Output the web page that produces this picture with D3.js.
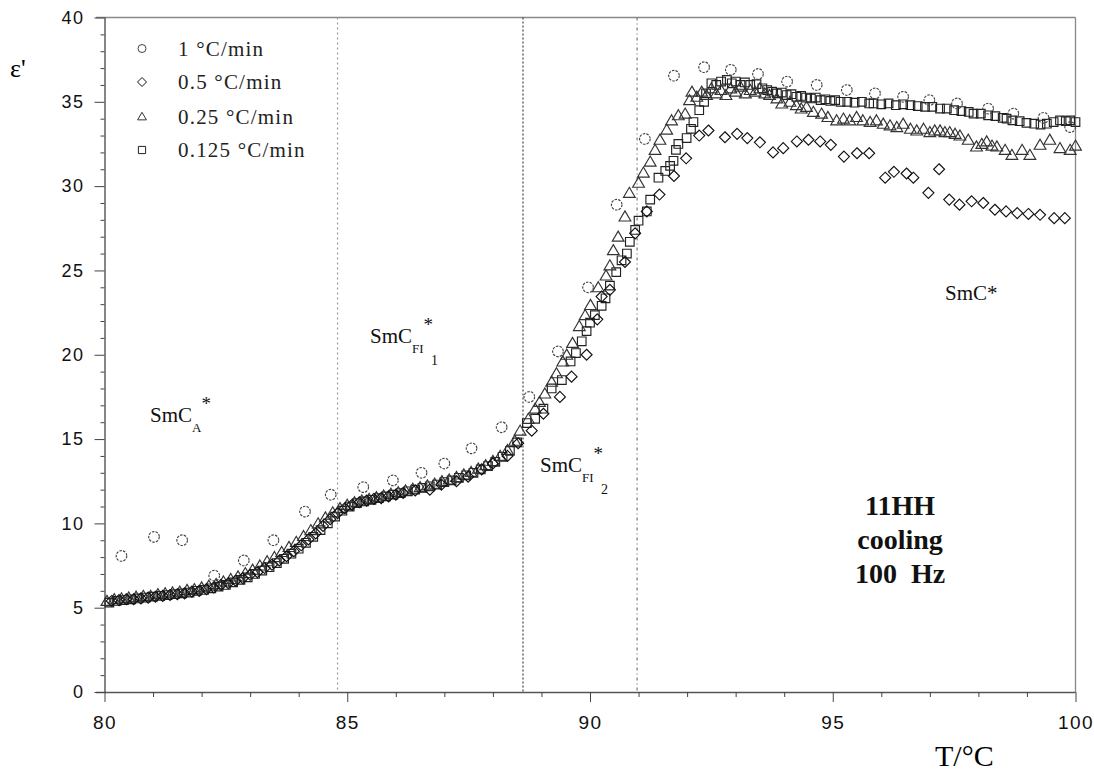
<!DOCTYPE html>
<html><head><meta charset="utf-8">
<script src="https://cdn.jsdelivr.net/npm/d3@7"></script>
<style>body{margin:0;background:#fff}svg{display:block}</style>
</head><body>
<svg id="c" width="1094" height="776"></svg>
<script>
// ---- data (T in °C, epsilon') ----
const rate1 = [[80.35,8.07],[81.02,9.2],[81.6,9.0],[82.26,6.9],[82.87,7.8],[83.48,9.0],[84.13,10.7],[84.66,11.7],[85.33,12.15],[85.94,12.55],[86.53,13.0],[87.0,13.55],[87.56,14.45],[88.18,15.7],[88.75,17.5],[89.34,20.2],[89.96,24.0],[90.55,28.9],[91.13,32.8],[91.73,36.55],[92.35,37.05],[92.9,36.9],[93.46,36.65],[94.06,36.2],[94.67,36.0],[95.29,35.7],[95.87,35.5],[96.45,35.3],[96.99,35.1],[97.56,34.9],[98.2,34.6],[98.72,34.3],[99.34,34.05],[99.89,33.5]];
const rate05 = [[80.15,5.4],[80.3,5.45],[80.45,5.5],[80.6,5.5],[80.75,5.55],[80.9,5.6],[81.05,5.65],[81.2,5.7],[81.35,5.75],[81.5,5.8],[81.65,5.85],[81.8,5.95],[81.95,6.0],[82.1,6.1],[82.25,6.2],[82.4,6.35],[82.55,6.45],[82.7,6.6],[82.85,6.75],[83.0,6.95],[83.15,7.1],[83.3,7.35],[83.45,7.55],[83.6,7.8],[83.75,8.05],[83.9,8.35],[84.05,8.7],[84.2,9.05],[84.35,9.4],[84.5,9.85],[84.65,10.25],[84.8,10.6],[84.95,10.9],[85.1,11.1],[85.25,11.25],[85.4,11.35],[85.55,11.45],[85.7,11.5],[85.85,11.6],[86.0,11.7],[86.15,11.8],[86.4,11.95],[86.7,12.0],[86.94,12.3],[87.25,12.5],[87.49,12.77],[87.77,13.2],[88.0,13.55],[88.3,14.0],[88.52,14.75],[88.8,15.5],[89.04,16.5],[89.38,17.5],[89.62,18.7],[89.93,20.0],[90.15,22.1],[90.24,23.45],[90.41,23.85],[90.72,25.5],[90.93,27.2],[91.17,28.5],[91.43,29.5],[91.73,30.6],[91.98,31.65],[92.25,33.0],[92.44,33.3],[92.78,32.9],[93.03,33.1],[93.24,32.85],[93.5,32.6],[93.77,32.0],[93.98,32.25],[94.26,32.65],[94.5,32.75],[94.74,32.65],[94.96,32.45],[95.23,31.75],[95.5,31.95],[95.75,31.95],[96.08,30.5],[96.26,30.85],[96.52,30.75],[96.66,30.5],[96.97,29.6],[97.19,31.0],[97.4,29.2],[97.61,28.9],[97.86,29.1],[98.1,29.0],[98.34,28.6],[98.57,28.5],[98.8,28.4],[99.03,28.35],[99.27,28.3],[99.56,28.1],[99.78,28.1]];
const rate025 = [[80.05,5.4],[80.2,5.5],[80.35,5.55],[80.5,5.6],[80.65,5.65],[80.8,5.7],[80.95,5.7],[81.1,5.8],[81.25,5.85],[81.4,5.9],[81.55,5.95],[81.7,6.05],[81.85,6.1],[82.0,6.2],[82.15,6.3],[82.3,6.4],[82.45,6.55],[82.6,6.7],[82.75,6.85],[82.9,7.05],[83.05,7.25],[83.2,7.5],[83.35,7.75],[83.5,8.0],[83.65,8.3],[83.8,8.6],[83.95,8.9],[84.1,9.25],[84.25,9.6],[84.4,10.0],[84.55,10.35],[84.7,10.65],[84.85,10.9],[85.0,11.1],[85.15,11.25],[85.3,11.35],[85.45,11.45],[85.6,11.55],[85.75,11.65],[85.9,11.75],[86.05,11.85],[86.2,11.95],[86.35,12.05],[86.5,12.15],[86.65,12.25],[86.8,12.35],[86.95,12.5],[87.1,12.6],[87.25,12.75],[87.4,12.9],[87.55,13.05],[87.7,13.25],[87.85,13.45],[88.0,13.7],[88.15,14.0],[88.3,14.35],[88.45,14.9],[88.56,15.5],[88.73,16.2],[88.87,16.8],[88.96,17.2],[89.07,17.7],[89.21,18.4],[89.31,18.9],[89.44,19.6],[89.52,20.0],[89.64,20.7],[89.78,21.7],[89.9,22.35],[90.01,22.95],[90.17,24.0],[90.33,24.7],[90.41,25.3],[90.48,26.2],[90.58,27.0],[90.72,28.2],[90.81,29.6],[91.0,30.2],[91.1,30.8],[91.24,31.45],[91.34,32.15],[91.44,32.75],[91.58,33.35],[91.68,33.9],[91.82,34.2],[91.96,34.3],[92.05,35.1],[92.1,35.6],[92.2,35.3],[92.3,35.6],[92.4,35.4],[92.5,35.8],[92.6,35.5],[92.7,35.7],[92.8,35.4],[92.9,35.8],[93.0,35.6],[93.1,35.9],[93.2,35.5],[93.3,35.7],[93.4,35.6],[93.5,35.8],[93.6,35.5],[93.7,35.4],[93.85,35.2],[93.95,34.9],[94.12,35.0],[94.25,34.8],[94.35,34.6],[94.46,34.7],[94.6,34.4],[94.77,34.3],[94.9,34.1],[95.08,33.9],[95.22,34.0],[95.35,33.9],[95.49,34.1],[95.62,33.9],[95.77,33.8],[95.9,33.9],[96.04,33.7],[96.18,33.6],[96.32,33.5],[96.45,33.7],[96.6,33.4],[96.73,33.3],[96.87,33.4],[97.0,33.2],[97.1,33.3],[97.21,33.3],[97.31,33.2],[97.41,33.2],[97.52,33.1],[97.62,33.0],[97.79,32.75],[97.96,32.35],[98.07,32.5],[98.17,32.65],[98.28,32.4],[98.38,32.35],[98.55,32.15],[98.69,31.85],[98.9,32.15],[99.06,31.85],[99.27,32.45],[99.47,32.75],[99.68,32.25],[99.89,32.15],[100.0,32.4]];
const rate0125 = [[80.1,5.3],[80.25,5.4],[80.4,5.45],[80.55,5.5],[80.7,5.55],[80.85,5.6],[81.0,5.65],[81.15,5.7],[81.3,5.75],[81.45,5.8],[81.6,5.85],[81.75,5.9],[81.9,6.0],[82.05,6.05],[82.2,6.15],[82.35,6.25],[82.5,6.35],[82.65,6.5],[82.8,6.65],[82.95,6.8],[83.1,7.0],[83.25,7.2],[83.4,7.4],[83.55,7.65],[83.7,7.9],[83.85,8.2],[84.0,8.5],[84.15,8.85],[84.3,9.2],[84.45,9.6],[84.6,10.0],[84.75,10.4],[84.9,10.75],[85.05,11.0],[85.2,11.2],[85.35,11.3],[85.5,11.4],[85.65,11.5],[85.8,11.6],[85.95,11.7],[86.1,11.8],[86.25,11.9],[86.4,12.0],[86.55,12.1],[86.7,12.2],[86.85,12.3],[87.0,12.45],[87.15,12.55],[87.3,12.7],[87.45,12.85],[87.6,13.0],[87.75,13.2],[87.9,13.4],[88.05,13.65],[88.2,13.95],[88.35,14.3],[88.5,14.8],[88.7,15.95],[88.87,16.2],[89.04,16.8],[89.21,18.0],[89.42,18.5],[89.6,19.6],[89.71,20.1],[89.83,20.8],[89.93,21.4],[90.0,21.9],[90.1,22.35],[90.24,22.9],[90.32,23.35],[90.41,24.1],[90.54,24.9],[90.65,25.6],[90.76,26.0],[90.82,26.7],[90.93,27.4],[91.0,27.95],[91.17,28.5],[91.24,29.2],[91.41,30.5],[91.55,30.9],[91.65,31.2],[91.72,31.5],[91.77,32.15],[91.82,32.5],[91.99,32.85],[92.08,33.4],[92.13,33.8],[92.25,34.5],[92.35,35.0],[92.39,35.5],[92.5,36.1],[92.6,36.0],[92.7,36.2],[92.82,36.3],[92.92,36.1],[93.0,36.2],[93.1,36.0],[93.19,36.15],[93.3,36.0],[93.43,36.05],[93.55,35.8],[93.65,35.7],[93.75,35.6],[93.85,35.5],[93.95,35.55],[94.05,35.4],[94.15,35.45],[94.25,35.3],[94.35,35.35],[94.45,35.25],[94.55,35.2],[94.65,35.25],[94.75,35.1],[94.85,35.15],[94.95,35.05],[95.05,35.1],[95.16,35.0],[95.3,35.0],[95.45,34.95],[95.6,35.0],[95.75,34.9],[95.84,34.9],[96.0,34.85],[96.15,34.9],[96.3,34.8],[96.45,34.85],[96.6,34.8],[96.75,34.75],[96.9,34.7],[97.05,34.7],[97.21,34.6],[97.35,34.6],[97.5,34.5],[97.65,34.45],[97.8,34.4],[97.9,34.3],[98.05,34.3],[98.2,34.2],[98.35,34.15],[98.5,34.05],[98.58,34.0],[98.7,33.9],[98.85,33.85],[98.99,33.75],[99.15,33.7],[99.28,33.65],[99.41,33.7],[99.55,33.8],[99.68,33.9],[99.8,33.85],[99.89,33.9],[100.0,33.8]];
const legendLabels = ["1 °C/min","0.5 °C/min","0.25 °C/min","0.125 °C/min"];
const phaseLines = [84.8, 88.62, 90.97];
const xTicks = [80,85,90,95,100];
const yTicks = [0,5,10,15,20,25,30,35,40];

// ---- layout ----
const svg = d3.select("#c");
const x = d3.scaleLinear().domain([80,100]).range([104.5,1075.5]);
const y = d3.scaleLinear().domain([0,40]).range([692,17.5]);
const serif = "'Liberation Serif','Times New Roman',serif";
const sans = "'Liberation Sans',Arial,sans-serif";

// frame (top, right)
svg.append("line").attr("x1",96).attr("x2",x(100)).attr("y1",y(40)).attr("y2",y(40)).attr("stroke","#888").attr("stroke-width",1.3);
svg.append("line").attr("x1",x(100)).attr("x2",x(100)).attr("y1",y(40)).attr("y2",y(0)).attr("stroke","#888").attr("stroke-width",1.3);

// phase boundary lines
const dashes = ["2,3","2,2","3,3,1,3"];
const lcol = ["#999","#444","#777"];
phaseLines.forEach((t,i)=>{
  svg.append("line").attr("x1",x(t)).attr("x2",x(t)).attr("y1",y(40)).attr("y2",y(0))
    .attr("stroke",lcol[i]).attr("stroke-width",1.2).attr("stroke-dasharray",dashes[i]);
});

// axes
const xAxis = d3.axisBottom(x).tickValues(d3.range(80,101,1)).tickSize(5)
  .tickFormat(d=> xTicks.includes(d)? d : "");
const gx = svg.append("g").attr("transform",`translate(0,${y(0)})`).call(xAxis);
gx.select(".domain").attr("stroke","#555").attr("stroke-width",1.3).attr("d",`M96,0.5H${x(100)}`);
gx.selectAll(".tick line").attr("stroke","#444").attr("y2",d=> xTicks.includes(d)?10:5);
gx.selectAll(".tick text").attr("font-family",sans).attr("font-size",19).attr("letter-spacing","1.5px")
  .attr("fill","#111").attr("y",24);

const yAxis = d3.axisLeft(y).tickValues(d3.range(0,41,1)).tickSize(4)
  .tickFormat(d=> yTicks.includes(d)? d : "");
const gy = svg.append("g").attr("transform",`translate(${x(80)},0)`).call(yAxis);
gy.select(".domain").attr("stroke","#444").attr("stroke-width",1.3).attr("d",`M0.5,${y(40)}V${y(0)}`);
gy.selectAll(".tick line").attr("stroke","#444").attr("x2",d=> yTicks.includes(d)?-10:-4);
gy.selectAll(".tick text").attr("font-family",sans).attr("font-size",18).attr("letter-spacing","1.5px")
  .attr("fill","#111").attr("x",-20);

// axis titles
svg.append("text").attr("x",10).attr("y",77).attr("font-family",serif).attr("font-size",26).text("ε'");
svg.append("text").attr("x",935).attr("y",766).attr("font-family",serif).attr("font-size",30).text("T/°C");

// symbol generators
function circ(r){return `M${r},0A${r},${r} 0 1,1 ${-r},0A${r},${r} 0 1,1 ${r},0Z`;}
function diam(r){return `M0,${-r}L${r},0L0,${r}L${-r},0Z`;}
function tri(r){return `M0,${-r}L${r*1.05},${r*0.8}L${-r*1.05},${r*0.8}Z`;}
function sq(r){return `M${-r},${-r}H${r}V${r}H${-r}Z`;}
const series = [
  {data:rate1, path:circ(5.3), stroke:"#444", dash:"2.5,1.2"},
  {data:rate05, path:diam(5.5), stroke:"#111", dash:null},
  {data:rate025, path:tri(5.6), stroke:"#333", dash:null},
  {data:rate0125, path:sq(4.3), stroke:"#222", dash:null}
];
const order = [3,2,1,0];
order.forEach(i=>{
  const s = series[i];
  svg.append("g").selectAll("path").data(s.data).join("path")
    .attr("transform",d=>`translate(${x(d[0])},${y(d[1])})`)
    .attr("d",s.path).attr("fill","none").attr("stroke",s.stroke).attr("stroke-width",1.15)
    .attr("stroke-dasharray",s.dash);
});

// legend
const legY = [48.5,82,116.5,150];
const legPaths = [circ(4), diam(4.5), tri(4.2), sq(3.6)];
legendLabels.forEach((t,i)=>{
  svg.append("path").attr("transform",`translate(142,${legY[i]})`).attr("d",legPaths[i])
    .attr("fill","none").attr("stroke",series[i].stroke).attr("stroke-width",1);
  svg.append("text").attr("x",178).attr("y",legY[i]+7).attr("font-family",serif).attr("font-size",21)
    .attr("letter-spacing","1.2px").attr("fill","#222").text(t);
});

// phase labels
function phase(xp,yp,sub,sup2){
  const t = svg.append("text").attr("x",xp).attr("y",yp).attr("font-family",serif).attr("font-size",21).attr("fill","#111");
  t.append("tspan").text("SmC");
  t.append("tspan").attr("font-size",13).attr("dy",10).text(sub);
  t.append("tspan").attr("font-size",19).attr("dy",-22).text("*");
  if(sup2){ t.append("tspan").attr("font-size",14).attr("dy",34).attr("dx",-2).text(sup2); }
}
phase(150,422,"A",null);
phase(370,343,"FI","1");
phase(540,472,"FI","2");
svg.append("text").attr("x",945).attr("y",300).attr("font-family",serif).attr("font-size",21).attr("fill","#111").text("SmC*");

// sample info
["11HH","cooling","100  Hz"].forEach((t,i)=>{
  svg.append("text").attr("x",900).attr("y",515+i*34).attr("text-anchor","middle")
    .attr("font-family",serif).attr("font-weight","bold").attr("font-size",28).attr("fill","#111")
    .style("white-space","pre").text(t);
});
</script>
</body></html>
